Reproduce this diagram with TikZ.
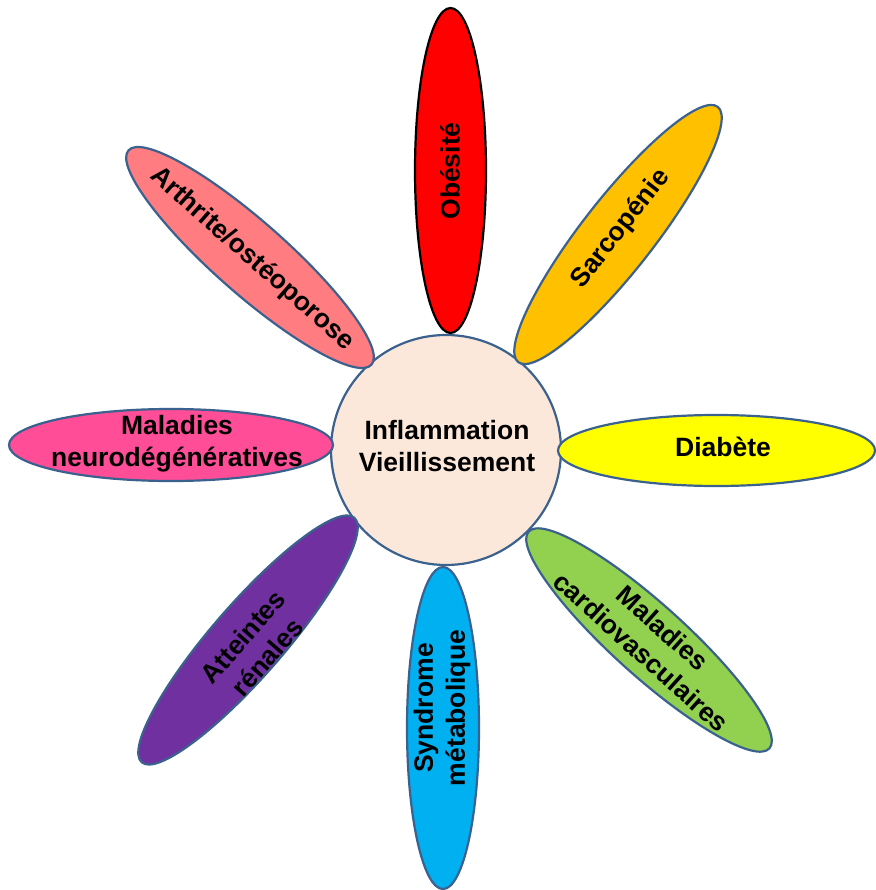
\documentclass[tikz,border=0pt]{standalone}
\usepackage{fontspec}
\setmainfont{Liberation Sans}
\usetikzlibrary{shapes.geometric}
\definecolor{edgeblue}{HTML}{3B618E}
\definecolor{hubfill}{HTML}{FCE8DA}
\definecolor{cRed}{HTML}{FF0000}
\definecolor{cOrange}{HTML}{FFC000}
\definecolor{cYellow}{HTML}{FFFF00}
\definecolor{cGreen}{HTML}{92D050}
\definecolor{cBlue}{HTML}{00B0F0}
\definecolor{cPurple}{HTML}{7030A0}
\definecolor{cPink}{HTML}{FF4D97}
\definecolor{cSalmon}{HTML}{FF7C80}
\begin{document}
\begin{tikzpicture}[x=1pt,y=-1pt,
  petal/.style={ellipse, draw=edgeblue, line width=2.2pt, inner sep=0pt,
    minimum width=324pt, minimum height=72pt},
  lbl/.style={font=\bfseries\fontsize{26.5}{32}\selectfont, align=center,
    inner sep=0pt, text=black}]
\useasboundingbox (0,0) rectangle (875,890);
% hub
\node[circle, draw=edgeblue, line width=2.2pt, fill=hubfill, minimum size=230pt, inner sep=0pt] (hub) at (446,450) {};
\node[lbl] (thub) at (447,446) {Inflammation\\Vieillissement};
% petals
\node[petal, fill=cRed, draw=black, minimum width=325pt, minimum height=71pt, rotate=90] (obe) at (450.5,170.5) {};
\node[lbl, rotate=90] (tobe) at (450,171) {Obésité};

\node[petal, fill=cOrange, rotate=52] (sar) at (618,234.5) {};
\node[lbl, rotate=52] (tsar) at (621,229) {Sarcopénie};

\node[petal, fill=cYellow, minimum width=317pt, minimum height=71pt] (dia) at (716.5,450.5) {};
\node[lbl] (tdia) at (723,447) {Diabète};

\node[petal, fill=cGreen, rotate=-42] (car) at (649,640) {};
\node[lbl, rotate=-42] (tcar) at (652,640) {Maladies\\cardiovasculaires};

\node[petal, fill=cBlue, minimum width=322pt, rotate=90] (syn) at (443,728) {};
\node[lbl, rotate=90] (tsyn) at (442,708) {Syndrome\\métabolique};

\node[petal, fill=cPurple, rotate=49] (ren) at (248,640) {};
\node[lbl, rotate=49] (tren) at (255,647) {Atteintes\\rénales};

\node[petal, fill=cPink] (neu) at (171,445) {};
\node[lbl] (tneu) at (177,444) {Maladies\\neurodégénératives};

\node[petal, fill=cSalmon, rotate=-41.4] (art) at (250,257.5) {};
\node[lbl, rotate=-41.4] (tart) at (252,259) {Arthrite/ostéoporose};
\end{tikzpicture}
\end{document}
